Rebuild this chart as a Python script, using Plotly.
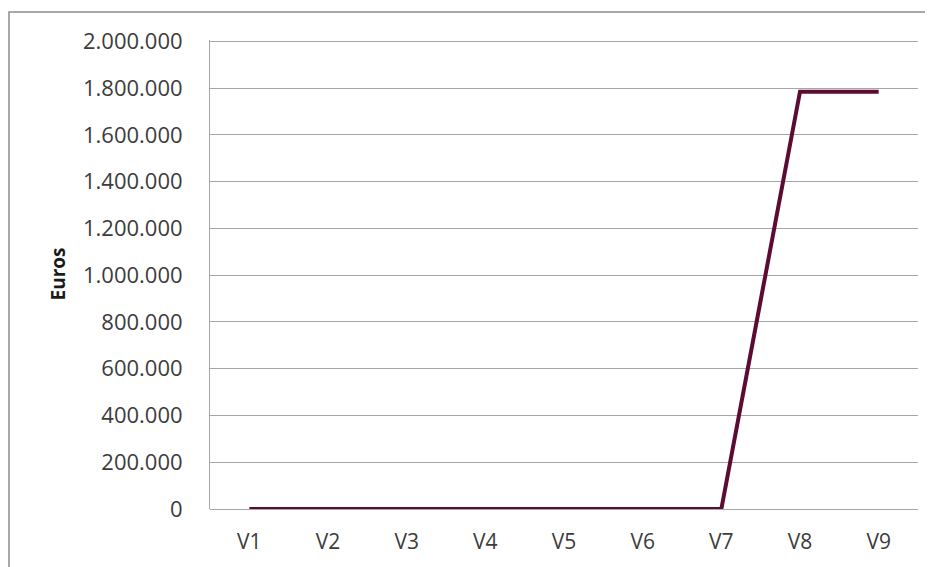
import plotly.graph_objects as go

categories = ["V1", "V2", "V3", "V4", "V5", "V6", "V7", "V8", "V9"]
euros = [0, 0, 0, 0, 0, 0, 0, 1785000, 1785000]

tick_vals = list(range(0, 2000001, 200000))
tick_text = ["0" if v == 0 else f"{v:,}".replace(",", ".") for v in tick_vals]

text_color = "#3c3c3c"
grid_color = "#a6a6a6"

# the page body adds an 8px offset, so margins are shifted to compensate
L, R, T, B = 202, 23, 32, 66
plot_w = 933 - L - R
plot_h = 567 - T - B

fig = go.Figure()
fig.add_trace(go.Scatter(
    x=categories, y=euros, mode="lines",
    line=dict(color="#5c0b33", width=4),
    showlegend=False, hoverinfo="skip",
))

fig.update_layout(
    width=933, height=567,
    margin=dict(l=L, r=R, t=T, b=B),
    paper_bgcolor="white", plot_bgcolor="white",
    font=dict(family="Open Sans", size=22, color=text_color),
    xaxis=dict(
        type="category", range=[-0.5, len(categories) - 0.5],
        showgrid=False, zeroline=False, automargin=False,
        showline=False, ticks="", ticklabelstandoff=18,
        tickfont=dict(size=21),
    ),
    yaxis=dict(
        range=[0, 2006000], tickvals=tick_vals, ticktext=tick_text,
        showgrid=True, gridcolor=grid_color, gridwidth=1,
        zeroline=True, zerolinecolor=grid_color, zerolinewidth=1,
        showline=True, linecolor=grid_color, linewidth=1,
        ticks="", ticklabelstandoff=22, automargin=False,
    ),
    annotations=[dict(
        text="<b>Euros</b>", textangle=-90, showarrow=False,
        xref="paper", yref="paper", x=(57 - 8 - L) / plot_w, y=0.5,
        xanchor="center", yanchor="middle",
        font=dict(size=19, color="#1a1a1a"),
    )],
    shapes=[dict(
        type="rect", xref="paper", yref="paper",
        x0=(9 - 8 - L) / plot_w, x1=1.2, y0=-0.3,
        y1=1 + (T - (12 - 8)) / plot_h,
        line=dict(color="#8c8c8c", width=1.5), layer="below",
    )],
)

fig.write_html("out.html")
